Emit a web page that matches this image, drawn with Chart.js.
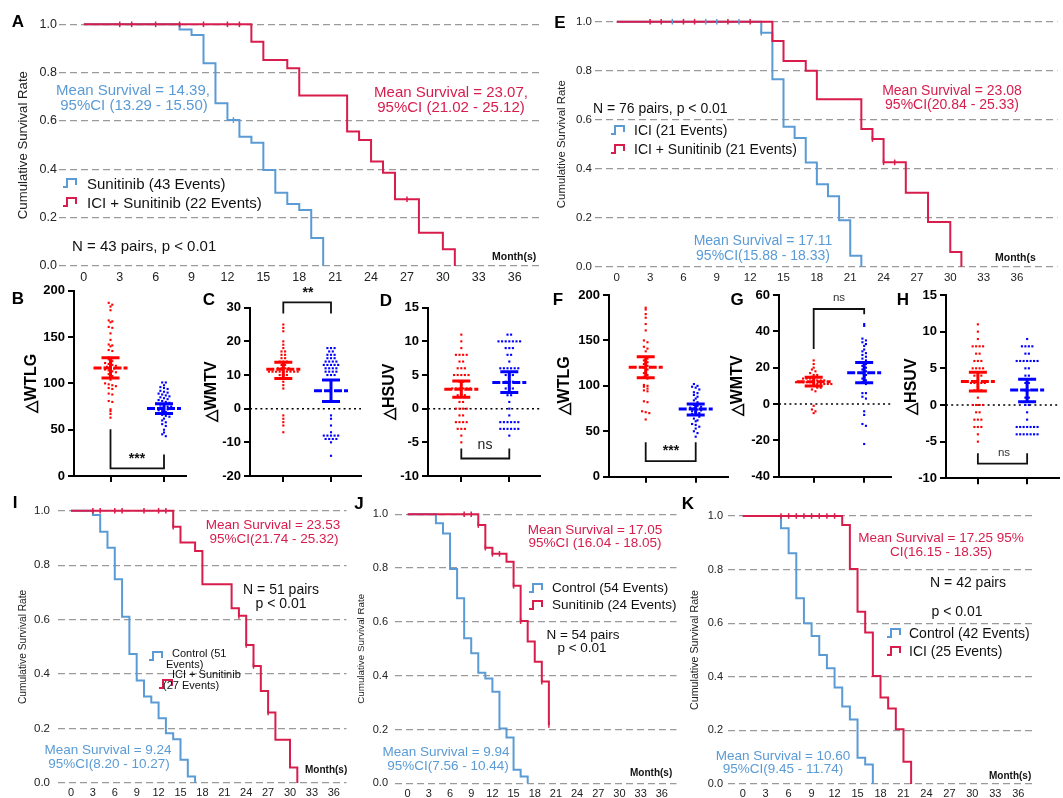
<!DOCTYPE html>
<html>
<head>
<title>Survival curves and metabolic changes</title>
<script src="https://cdn.jsdelivr.net/npm/chart.js"></script>
<style>
  body { margin: 0; background: #fff; }
  #fig { position: relative; width: 1063px; height: 798px; overflow: hidden; background: #fff;
         font-family: Arial, "Liberation Sans", sans-serif; }
  #fig canvas { position: absolute; }
  .t { position: absolute; white-space: nowrap; line-height: 1; }
</style>
</head>
<body>
<div id="fig"></div>
<script>
const FONT = 'Arial, "Liberation Sans", sans-serif';
const KM_RED = '#d81c4c';
const KM_BLUE = '#5b9bd5';
const DOT_RED = '#ff0000';
const DOT_BLUE = '#0000ff';

// shared ticks
const monthTicks = [0, 3, 6, 9, 12, 15, 18, 21, 24, 27, 30, 33, 36];
const survTicks = [0, 0.2, 0.4, 0.6, 0.8, 1.0];

// A: Sunitinib vs ICI + Sunitinib
const aSuniTime = [0, 8, 9, 10, 11, 12, 13, 14, 15, 16, 17, 18, 19, 20];
const aSuniSurv = [1, 0.979, 0.956, 0.839, 0.673, 0.604, 0.535, 0.51, 0.397, 0.303, 0.257, 0.232, 0.116, 0];
const aSuniCensT = [12.5];
const aSuniCensS = [0.604];
const aComboTime = [0, 14, 15, 17, 18, 22, 23, 24, 25, 26, 28, 30, 31];
const aComboSurv = [1, 0.928, 0.852, 0.818, 0.705, 0.556, 0.521, 0.432, 0.386, 0.276, 0.138, 0.069, 0];
const aComboCensT = [3, 4, 6, 8, 10, 12, 13, 27];
const aComboCensS = [1, 1, 1, 1, 1, 1, 1, 0.276];

// E: ICI vs ICI + Sunitinib
const eIciTime = [0, 13, 14, 15, 16, 17, 18, 19, 20, 21, 22];
const eIciSurv = [1, 0.955, 0.765, 0.571, 0.525, 0.425, 0.337, 0.288, 0.19, 0.045, 0];
const eIciCensT = [5, 8, 9, 11, 13];
const eIciCensS = [1, 1, 1, 1, 0.955];
const eComboTime = [0, 14, 15, 17, 18, 22, 23, 24, 26, 28, 30, 31];
const eComboSurv = [1, 0.921, 0.84, 0.80, 0.683, 0.562, 0.521, 0.426, 0.302, 0.182, 0.06, 0];
const eComboCensT = [3, 4, 6, 7, 10, 12, 23, 24, 25];
const eComboCensS = [1, 1, 1, 1, 1, 1, 0.521, 0.426, 0.426];

// I: Control vs ICI + Sunitinib
const iCtrlTime = [0, 3, 4, 5, 6, 7, 8, 9, 10, 11, 12, 13, 14, 15, 16, 17];
const iCtrlSurv = [1, 0.984, 0.923, 0.864, 0.748, 0.611, 0.474, 0.377, 0.318, 0.296, 0.238, 0.183, 0.161, 0.086, 0.024, 0];
const iComboTime = [0, 14, 15, 17, 18, 22, 23, 24, 25, 26, 27, 28, 30, 31];
const iComboSurv = [1, 0.941, 0.883, 0.852, 0.73, 0.642, 0.614, 0.507, 0.43, 0.338, 0.259, 0.159, 0.057, 0];
const iComboCensT = [3, 4, 6, 7, 10, 12, 13, 14, 23, 24, 25, 27];
const iComboCensS = [1, 1, 1, 1, 1, 1, 1, 0.941, 0.614, 0.507, 0.43, 0.259];

// J: Control vs Sunitinib
const jCtrlTime = [0, 4, 5, 6, 7, 8, 9, 10, 11, 12, 13, 14, 15, 16, 17];
const jCtrlSurv = [1, 0.967, 0.929, 0.797, 0.688, 0.539, 0.483, 0.411, 0.39, 0.34, 0.204, 0.17, 0.05, 0.025, 0];
const jSuniTime = [0, 10, 11, 12, 14, 15, 16, 17, 18, 19, 20];
const jSuniSurv = [1, 0.96, 0.876, 0.853, 0.824, 0.734, 0.603, 0.527, 0.452, 0.378, 0.217];
const jSuniCensT = [8, 9, 10, 11, 12, 13, 15, 16, 19, 20];
const jSuniCensS = [1, 1, 0.96, 0.876, 0.853, 0.853, 0.734, 0.603, 0.378, 0.217];

// K: Control vs ICI
const kCtrlTime = [0, 5, 6, 7, 8, 9, 10, 11, 12, 13, 14, 15, 16, 17];
const kCtrlSurv = [1, 0.954, 0.861, 0.693, 0.6, 0.552, 0.481, 0.432, 0.36, 0.289, 0.241, 0.098, 0.073, 0];
const kIciTime = [0, 13, 14, 15, 16, 17, 18, 19, 20, 21, 22];
const kIciSurv = [1, 0.966, 0.802, 0.643, 0.565, 0.403, 0.323, 0.282, 0.204, 0.083, 0];
const kIciCensT = [5, 6, 7, 8, 9, 10, 11, 12];
const kIciCensS = [1, 1, 1, 1, 1, 1, 1, 1];

// B-D, F-H: per-patient changes (red = first group, blue = second group)
const bRed = [187,185,183,179,168,167,166,161,160,154,147,142,141,140,136,135,128,127,126,124,122,121,120,119,118,117,116,115,114,113,112,110,108,106,104,100,99,98,97,95,94,89,88,81,80,72,70,67,63];
const bBlue = [101,101,98,96,95,94,92,91,90,89,88,87,86,85,84,83,82,81,80,79,78,77,76,75,75,74,73,72,71,70,69,68,67,66,65,64,62,60,58,56,54,50,47,45,43];
const bMean = [116.5, 72.8], bLow = [105.7, 67.4], bHigh = [127.6, 78.1];
const bBracket = [50.5, 8.2, 23.3];

const cRed = [25,24,23,20,19,18,17,17,16,16,15,15,14,14,14,13,13,12,12,12,12,11,11,11,11,11,11,11,11,11,10,10,10,9,9,8,7,6,-2,-3,-4,-5,-7];
const cBlue = [18,18,18,17,17,16,16,16,15,15,15,14,14,14,14,13,13,13,13,13,12,12,12,12,11,11,11,11,10,10,10,-2,-3,-5,-7,-8,-8,-8,-8,-8,-9,-9,-9,-9,-10,-14];
const cMean = [11.7, 5.35], cLow = [9.0, 2.1], cHigh = [13.8, 8.5];
const cBracket = [28.3, 31.6, 28.3];

const dRed = [11,10,9,8,8,8,8,7,7,6,6,6,5,5,5,5,5,4,4,3,3,3,3,3,3,2,2,2,1,1,0,0,0,0,-1,-1,-2,-2,-2,-2,-3,-3,-3,-4,-5];
const dBlue = [11,11,10,10,10,10,10,10,10,9,9,9,8,8,7,6,6,6,6,6,6,5,5,5,4,4,4,3,3,3,2,2,1,0,-1,-2,-2,-2,-2,-2,-2,-3,-3,-3,-3,-3,-3,-4];
const dMean = [2.9, 3.9], dLow = [1.7, 2.4], dHigh = [4.1, 5.5];
const dBracket = [-5.9, -7.4, -5.9];

const fRed = [186,184,179,175,168,161,150,148,143,141,138,132,130,128,126,124,122,120,118,116,114,112,110,108,101,100,99,97,95,94,83,82,72,71,70,63];
const fBlue = [102,100,99,98,96,93,92,90,88,86,84,82,80,79,78,77,76,75,74,73,72,71,70,69,68,66,64,62,61,58,57,55,53,50,48,44];
const fMean = [120.4, 74.5], fLow = [109, 68], fHigh = [132, 80];
const fBracket = [37.8, 17.2, 37.8];

const gRed = [24,22,20,19,18,17,16,16,15,15,14,14,14,13,13,13,13,12,12,12,12,12,12,11,11,11,11,11,10,10,10,9,9,8,7,-1,-3,-4,-5];
const gBlue = [44,43,36,35,34,33,32,30,29,28,27,26,25,24,23,22,21,20,19,18,17,16,15,14,13,12,11,6,6,4,3,-4,-6,-11,-12,-22];
const gMean = [12.3, 17.2], gLow = [9.9, 11.7], gHigh = [14.7, 22.9];
const gBracket = [30.3, 52.3, 49.4];

const hRed = [11,10,9,8,8,8,8,7,7,6,6,6,5,5,5,5,4,4,4,3,3,3,3,3,2,2,2,1,0,0,0,0,-1,-1,-2,-2,-2,-3,-3,-3,-4,-5];
const hBlue = [9,8,8,8,8,7,7,6,6,6,6,6,6,6,5,5,4,4,3,3,2,2,1,1,0,0,-1,-2,-3,-3,-3,-3,-3,-3,-3,-4,-4,-4,-4,-4,-4,-4];
const hMean = [3.2, 2.05], hLow = [1.9, 0.45], hHigh = [4.45, 3.5];
const hBracket = [-6.6, -8.0, -6.6];

const fig = document.getElementById('fig');

function addCanvas(box) {
  const c = document.createElement('canvas');
  c.width = box[2]; c.height = box[3];
  c.style.left = box[0] + 'px'; c.style.top = box[1] + 'px';
  c.style.width = box[2] + 'px'; c.style.height = box[3] + 'px';
  fig.appendChild(c);
  return c;
}

function label(text, x, y, size, color, opt) {
  opt = opt || {};
  const d = document.createElement('div');
  d.className = 't';
  d.textContent = text;
  d.style.left = x + 'px';
  d.style.top = y + 'px';
  d.style.fontSize = size + 'px';
  d.style.color = color;
  if (opt.bold) d.style.fontWeight = 'bold';
  d.style.transform = opt.left ? 'translate(0,-50%)' : 'translate(-50%,-50%)';
  fig.appendChild(d);
}

function stepIcon(x, y, color) {
  const s = document.createElementNS('http://www.w3.org/2000/svg', 'svg');
  s.setAttribute('width', 16); s.setAttribute('height', 12);
  s.style.position = 'absolute';
  s.style.left = x + 'px'; s.style.top = (y - 6) + 'px';
  s.innerHTML = '<path d="M1 10 H5 V2 H14 V8" fill="none" stroke="' + color + '" stroke-width="2"/>';
  fig.appendChild(s);
}

function kmPanel(p) {
  const cv = addCanvas(p.box);
  const ppm = (p.x36 - p.x0) / 36;
  const xmin = (p.area[0] - p.x0) / ppm;
  const xmax = 36 + (p.area[2] - p.x36) / ppm;
  const datasets = [];
  p.curves.forEach(c => {
    // horizontal first, then the drop at the event time
    datasets.push({
      type: 'line',
      data: c.time.map((t, i) => ({x: t, y: c.surv[i]})),
      stepped: 'before', borderColor: c.color, borderWidth: 2,
      pointRadius: 0, fill: false, clip: false, order: c.order
    });
    if (c.censT) {
      datasets.push({
        type: 'scatter',
        data: c.censT.map((t, i) => ({x: t, y: c.censS[i]})),
        pointStyle: 'line', rotation: 90, pointRadius: 2.8,
        borderColor: c.color, borderWidth: 1.5, clip: false, order: 0
      });
    }
  });
  new Chart(cv, {
    type: 'scatter',
    data: {datasets},
    options: {
      responsive: false, animation: false, devicePixelRatio: 1,
      layout: {padding: {left: 0, top: p.area[1] - p.box[1], right: p.box[0] + p.box[2] - p.area[2], bottom: 0}},
      plugins: {legend: {display: false}, tooltip: {enabled: false}},
      scales: {
        x: {
          type: 'linear', min: xmin, max: xmax,
          afterBuildTicks: s => { s.ticks = monthTicks.map(v => ({value: v})); },
          afterFit: s => { s.height = p.box[1] + p.box[3] - p.area[3]; },
          grid: {display: false, drawTicks: false}, border: {display: false},
          ticks: {padding: p.xpad, autoSkip: false, maxRotation: 0, color: '#222',
                  font: {family: FONT, size: p.xfont}}
        },
        y: {
          type: 'linear', min: 0, max: 1,
          afterBuildTicks: s => { s.ticks = survTicks.map(v => ({value: v})); },
          afterFit: s => { s.width = p.area[0] - p.box[0]; },
          grid: {color: '#9a9a9a', lineWidth: 1.3, drawTicks: false},
          border: {display: false, dash: [7, 4]},
          ticks: {padding: p.ypad, color: '#222', font: {family: FONT, size: p.yfont},
                  callback: v => v.toFixed(1)},
          title: {display: true, text: 'Cumulative Survival Rate', color: '#222',
                  font: {family: FONT, size: p.tfont}, padding: {top: p.tpad, bottom: 0}}
        }
      }
    }
  });
}

function swarm(vals, g, bin, step) {
  const rows = {};
  vals.forEach(v => {
    const k = Math.round(v / bin);
    (rows[k] = rows[k] || []).push(v);
  });
  const pts = [];
  Object.values(rows).forEach(r => r.forEach((v, i) => {
    pts.push({x: g + (i - (r.length - 1) / 2) * step, y: v});
  }));
  return pts;
}

function dotPanel(p) {
  const cv = addCanvas(p.box);
  const unit = p.g[1] - p.g[0];
  const xmin = 1 - (p.g[0] - p.area[0]) / unit;
  const xmax = 2 + (p.area[2] - p.g[1]) / unit;
  const pyu = (p.area[3] - p.area[1]) / (p.y[1] - p.y[0]);
  const step = 3.6 / unit, bin = 3.4 / pyu;
  const axisGrid = {drawOnChartArea: false, drawTicks: true, tickLength: 6, color: '#000', lineWidth: 2};
  const decor = {
    id: 'decor',
    beforeDatasetsDraw(chart) {
      if (!p.zero) return;
      const {ctx, chartArea, scales: {y}} = chart;
      const yy = y.getPixelForValue(0);
      ctx.save();
      ctx.setLineDash([2, 3.2]);
      ctx.strokeStyle = '#000'; ctx.lineWidth = 1.6;
      ctx.beginPath(); ctx.moveTo(chartArea.left, yy); ctx.lineTo(chartArea.right, yy); ctx.stroke();
      ctx.restore();
    },
    afterDatasetsDraw(chart) {
      const {ctx, scales: {x, y}} = chart;
      ctx.save();
      [1, 2].forEach((g, i) => {
        const xc = x.getPixelForValue(g);
        ctx.strokeStyle = i ? DOT_BLUE : DOT_RED;
        ctx.lineWidth = 3;
        ctx.setLineDash([8, 2]);
        ctx.beginPath();
        ctx.moveTo(xc - 17, y.getPixelForValue(p.mean[i]));
        ctx.lineTo(xc + 17, y.getPixelForValue(p.mean[i]));
        ctx.stroke();
        ctx.setLineDash([]);
        const lo = y.getPixelForValue(p.low[i]), hi = y.getPixelForValue(p.high[i]);
        ctx.beginPath();
        ctx.moveTo(xc, lo); ctx.lineTo(xc, hi);
        ctx.moveTo(xc - 9, lo); ctx.lineTo(xc + 9, lo);
        ctx.moveTo(xc - 9, hi); ctx.lineTo(xc + 9, hi);
        ctx.stroke();
      });
      const b = p.bracket;
      const x1 = x.getPixelForValue(1), x2 = x.getPixelForValue(2);
      ctx.strokeStyle = '#111'; ctx.lineWidth = 1.8;
      ctx.beginPath();
      ctx.moveTo(x1, y.getPixelForValue(b[0]));
      ctx.lineTo(x1, y.getPixelForValue(b[1]));
      ctx.lineTo(x2, y.getPixelForValue(b[1]));
      ctx.lineTo(x2, y.getPixelForValue(b[2]));
      ctx.stroke();
      ctx.restore();
    }
  };
  new Chart(cv, {
    type: 'scatter',
    data: {
      datasets: [
        {data: swarm(p.red, 1, bin, step), backgroundColor: DOT_RED, borderWidth: 0,
         pointStyle: 'rect', pointRadius: 1.5, clip: false},
        {data: swarm(p.blue, 2, bin, step), backgroundColor: DOT_BLUE, borderWidth: 0,
         pointStyle: 'rect', pointRadius: 1.5, clip: false}
      ]
    },
    options: {
      responsive: false, animation: false, devicePixelRatio: 1,
      layout: {padding: {left: 0, top: p.area[1] - p.box[1], right: p.box[0] + p.box[2] - p.area[2], bottom: 0}},
      plugins: {legend: {display: false}, tooltip: {enabled: false}},
      scales: {
        x: {
          type: 'linear', min: xmin, max: xmax,
          afterBuildTicks: s => { s.ticks = [{value: 1}, {value: 2}]; },
          afterFit: s => { s.height = p.box[1] + p.box[3] - p.area[3]; },
          grid: axisGrid, border: {display: true, color: '#000', width: 2},
          ticks: {callback: () => '', padding: 0}
        },
        y: {
          type: 'linear', min: p.y[0], max: p.y[1],
          afterBuildTicks: s => { s.ticks = p.yTicks.map(v => ({value: v})); },
          afterFit: s => { s.width = p.area[0] - p.box[0]; },
          grid: axisGrid, border: {display: true, color: '#000', width: 2},
          ticks: {padding: 3, color: '#000', font: {family: FONT, size: 13, weight: 'bold'}},
          title: {display: true, text: p.title, color: '#000',
                  font: {family: FONT, size: 16, weight: 'bold'}, padding: {top: p.tpad, bottom: 0}}
        }
      }
    },
    plugins: [decor]
  });
}

// ---- top row survival panels
kmPanel({
  box: [0, 0, 545, 292], area: [59, 24.3, 543, 266], x0: 84, x36: 518,
  xfont: 12.5, yfont: 12.5, xpad: 4.5, ypad: 2, tfont: 13.2, tpad: 15,
  curves: [
    {time: aSuniTime, surv: aSuniSurv, censT: aSuniCensT, censS: aSuniCensS, color: KM_BLUE, order: 2},
    {time: aComboTime, surv: aComboSurv, censT: aComboCensT, censS: aComboCensS, color: KM_RED, order: 1}
  ]
});
kmPanel({
  box: [545, 0, 518, 292], area: [595, 21.7, 1063, 266.7], x0: 617, x36: 1022,
  xfont: 11.5, yfont: 11.5, xpad: 4.5, ypad: 3, tfont: 11.4, tpad: 9.8,
  curves: [
    {time: eIciTime, surv: eIciSurv, censT: eIciCensT, censS: eIciCensS, color: KM_BLUE, order: 2},
    {time: eComboTime, surv: eComboSurv, censT: eComboCensT, censS: eComboCensS, color: KM_RED, order: 1}
  ]
});

// ---- middle row scatter panels
dotPanel({box: [0, 280, 190, 210], area: [74, 290, 186, 476], g: [110.5, 164],
  y: [0, 200], yTicks: [0, 50, 100, 150, 200], title: '△WTLG', tpad: 22.4,
  red: bRed, blue: bBlue, mean: bMean, low: bLow, high: bHigh, bracket: bBracket, zero: false});
dotPanel({box: [190, 280, 175, 210], area: [250, 307.7, 361, 476], g: [283.3, 331],
  y: [-20, 30], yTicks: [-20, -10, 0, 10, 20, 30], title: '△WMTV', tpad: 12.4,
  red: cRed, blue: cBlue, mean: cMean, low: cLow, high: cHigh, bracket: cBracket, zero: true});
dotPanel({box: [368, 280, 177, 210], area: [428, 307.7, 540, 476], g: [461.3, 509.3],
  y: [-10, 15], yTicks: [-10, -5, 0, 5, 10, 15], title: '△HSUV', tpad: 12.4,
  red: dRed, blue: dBlue, mean: dMean, low: dLow, high: dHigh, bracket: dBracket, zero: true});
dotPanel({box: [545, 280, 190, 210], area: [609, 295, 728, 476.7], g: [645.7, 695.7],
  y: [0, 200], yTicks: [0, 50, 100, 150, 200], title: '△WTLG', tpad: 10.4,
  red: fRed, blue: fBlue, mean: fMean, low: fLow, high: fHigh, bracket: fBracket, zero: false});
dotPanel({box: [715, 280, 180, 210], area: [779, 295, 893, 476.7], g: [814.3, 865.7],
  y: [-40, 60], yTicks: [-40, -20, 0, 20, 40, 60], title: '△WMTV', tpad: 13.4,
  red: gRed, blue: gBlue, mean: gMean, low: gLow, high: gHigh, bracket: gBracket, zero: true});
dotPanel({box: [890, 280, 173, 210], area: [946, 295, 1063, 478.3], g: [979, 1030],
  y: [-10, 15], yTicks: [-10, -5, 0, 5, 10, 15], title: '△HSUV', tpad: 12.4,
  red: hRed, blue: hBlue, mean: hMean, low: hLow, high: hHigh, bracket: hBracket, zero: true});

// ---- bottom row survival panels
kmPanel({
  box: [0, 490, 352, 308], area: [58, 510.7, 347, 783.3], x0: 71, x36: 334.3,
  xfont: 11, yfont: 11.5, xpad: 3.5, ypad: 8, tfont: 10.2, tpad: 16.9,
  curves: [
    {time: iCtrlTime, surv: iCtrlSurv, color: KM_BLUE, order: 2},
    {time: iComboTime, surv: iComboSurv, censT: iComboCensT, censS: iComboCensS, color: KM_RED, order: 1}
  ]
});
kmPanel({
  box: [352, 490, 330, 308], area: [395, 514.3, 677, 783.3], x0: 407.7, x36: 662.3,
  xfont: 11, yfont: 11, xpad: 4, ypad: 7, tfont: 9.8, tpad: 3.1,
  curves: [
    {time: jCtrlTime, surv: jCtrlSurv, color: KM_BLUE, order: 2},
    {time: jSuniTime, surv: jSuniSurv, censT: jSuniCensT, censS: jSuniCensS, color: KM_RED, order: 1}
  ]
});
kmPanel({
  box: [680, 490, 383, 308], area: [728, 516, 1032, 784], x0: 742.7, x36: 1018.3,
  xfont: 11, yfont: 11, xpad: 3.5, ypad: 5, tfont: 10.7, tpad: 8.6,
  curves: [
    {time: kCtrlTime, surv: kCtrlSurv, color: KM_BLUE, order: 2},
    {time: kIciTime, surv: kIciSurv, censT: kIciCensT, censS: kIciCensS, color: KM_RED, order: 1}
  ]
});

// ---- panel letters
[['A', 18, 21], ['E', 560, 22], ['B', 18, 298], ['C', 209, 299], ['D', 386, 300],
 ['F', 558, 299], ['G', 737, 299], ['H', 903, 299], ['I', 15, 502], ['J', 359, 503], ['K', 688, 503]]
  .forEach(l => label(l[0], l[1], l[2], 17, '#000', {bold: true}));

// ---- A annotations
label('Mean Survival = 14.39,', 133, 89, 15, KM_BLUE);
label('95%CI (13.29 - 15.50)', 134, 104, 15, KM_BLUE);
label('Mean Survival = 23.07,', 451, 91, 15, KM_RED);
label('95%CI (21.02 - 25.12)', 451, 106, 15, KM_RED);
stepIcon(62, 183, KM_BLUE);
label('Sunitinib (43 Events)', 87, 183, 15, '#111', {left: true});
stepIcon(62, 202, KM_RED);
label('ICI + Sunitinib (22 Events)', 87, 202, 15, '#111', {left: true});
label('N = 43 pairs, p < 0.01', 72, 245, 15, '#111', {left: true});
label('Month(s)', 492, 256, 10.5, '#111', {left: true, bold: true});

// ---- E annotations
label('N = 76 pairs, p < 0.01', 593, 108, 14, '#111', {left: true});
stepIcon(610, 130, KM_BLUE);
label('ICI  (21 Events)', 634, 130, 14, '#111', {left: true});
stepIcon(610, 149, KM_RED);
label('ICI + Sunitinib (21 Events)', 634, 149, 14, '#111', {left: true});
label('Mean Survival = 23.08', 952, 90, 14, KM_RED);
label('95%CI(20.84 - 25.33)', 952, 104, 14, KM_RED);
label('Mean Survival = 17.11', 763, 240, 14, KM_BLUE);
label('95%CI(15.88 - 18.33)', 763, 255, 14, KM_BLUE);
label('Month(s', 995, 257, 10.5, '#111', {left: true, bold: true});

// ---- significance marks
label('***', 137, 458, 14, '#111', {bold: true});
label('**', 308, 292, 14, '#111', {bold: true});
label('ns', 485, 444, 14, '#222');
label('***', 671, 450, 14, '#111', {bold: true});
label('ns', 839, 298, 11.5, '#333');
label('ns', 1004, 453, 11.5, '#333');

// ---- I annotations
label('Mean Survival = 23.53', 273, 525, 13.5, KM_RED);
label('95%CI(21.74 - 25.32)', 274, 539, 13.5, KM_RED);
label('N = 51 pairs', 281, 589, 14, '#111');
label('p < 0.01', 281, 603, 14, '#111');
stepIcon(148, 656, KM_BLUE);
label('Control (51', 172, 653, 11, '#111', {left: true});
label('Events)', 166, 664, 11, '#111', {left: true});
stepIcon(158, 684, KM_RED);
label('ICI + Sunitinib', 172, 673.5, 11, '#111', {left: true});
label('(27 Events)', 163, 684.5, 11, '#111', {left: true});
label('Mean Survival = 9.24', 108, 750, 13.5, KM_BLUE);
label('95%CI(8.20 - 10.27)', 109, 764, 13.5, KM_BLUE);
label('Month(s)', 305, 770, 10, '#111', {left: true, bold: true});

// ---- J annotations
label('Mean Survival = 17.05', 595, 530, 13.5, KM_RED);
label('95%CI (16.04 - 18.05)', 595, 543, 13.5, KM_RED);
stepIcon(528, 588, KM_BLUE);
label('Control (54 Events)', 552, 588, 13.5, '#111', {left: true});
stepIcon(528, 605, KM_RED);
label('Sunitinib (24 Events)', 552, 605, 13.5, '#111', {left: true});
label('N = 54 pairs', 583, 635, 13.5, '#111');
label('p < 0.01', 582, 648, 13.5, '#111');
label('Mean Survival = 9.94', 446, 752, 13.5, KM_BLUE);
label('95%CI(7.56 - 10.44)', 448, 766, 13.5, KM_BLUE);
label('Month(s)', 630, 773, 10, '#111', {left: true, bold: true});

// ---- K annotations
label('Mean Survival = 17.25 95%', 941, 538, 13.5, KM_RED);
label('CI(16.15 - 18.35)', 941, 552, 13.5, KM_RED);
label('N = 42 pairs', 968, 582, 14, '#111');
label('p < 0.01', 957, 611, 14, '#111');
stepIcon(886, 633, KM_BLUE);
label('Control (42 Events)', 909, 633, 14, '#111', {left: true});
stepIcon(886, 651, KM_RED);
label('ICI (25 Events)', 909, 651, 14, '#111', {left: true});
label('Mean Survival = 10.60', 783, 756, 13.5, KM_BLUE);
label('95%CI(9.45 - 11.74)', 783, 769, 13.5, KM_BLUE);
label('Month(s)', 989, 776, 10, '#111', {left: true, bold: true});
</script>
</body>
</html>
